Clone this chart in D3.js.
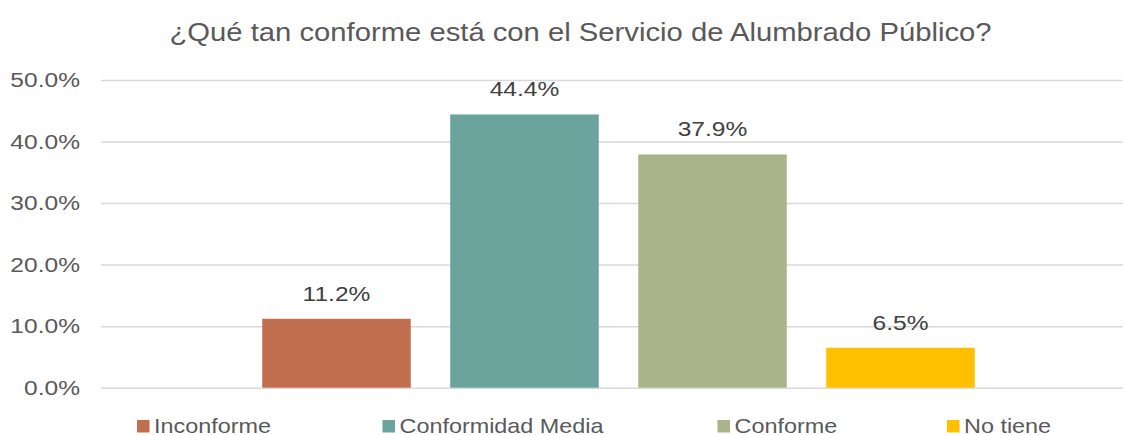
<!DOCTYPE html>
<html>
<head>
<meta charset="utf-8">
<script src="https://cdn.jsdelivr.net/npm/d3@7"></script>
<style>
  html, body { margin: 0; padding: 0; background: #fff; }
  svg { display: block; font-family: "Liberation Sans", Arial, sans-serif; }
</style>
</head>
<body>
<svg id="chart" width="1123" height="435"></svg>
<script>
// Survey answers and their shares (percent)
const categories = ["Inconforme", "Conformidad Media", "Conforme", "No tiene"];
const values = [11.2, 44.4, 37.9, 6.5];
const colors = ["#C26F50", "#6BA39D", "#A9B48A", "#FFC000"];
const yTicks = [0, 10, 20, 30, 40, 50];
const title = "¿Qué tan conforme está con el Servicio de Alumbrado Público?";

// Text is drawn slightly widened horizontally
const SX = 1.17;

const svg = d3.select("#chart");
const plot = { left: 101, right: 1136, top: 80, bottom: 387.7 };

const x = d3.scaleBand()
  .domain(categories)
  .range([plot.left, plot.right])
  .paddingInner(0.21)
  .paddingOuter(0.8575);

const y = d3.scaleLinear()
  .domain([0, 50])
  .range([plot.bottom, plot.top]);

// Title
svg.append("text")
  .attr("transform", `translate(580.5,41) scale(${SX},1)`)
  .attr("text-anchor", "middle")
  .attr("fill", "#595959")
  .attr("font-size", 25)
  .text(title);

// Gridlines and y tick labels via a left axis
const yAxis = d3.axisLeft(y)
  .tickValues(yTicks)
  .tickSize(-(plot.right - plot.left))
  .tickFormat(d => d.toFixed(1) + "%");

const gy = svg.append("g")
  .attr("transform", `translate(${plot.left},0)`)
  .call(yAxis);
gy.select(".domain").remove();
gy.selectAll(".tick line")
  .attr("stroke", "#D9D9D9")
  .attr("stroke-width", 1.5);
gy.selectAll(".tick text")
  .attr("x", 0)
  .attr("transform", `translate(-21,0) scale(${SX},1)`)
  .attr("fill", "#595959")
  .attr("font-size", 21)
  .attr("font-family", "'Liberation Sans', Arial, sans-serif");

// Bars
svg.append("g").selectAll("rect")
  .data(categories)
  .join("rect")
  .attr("x", d => x(d))
  .attr("width", x.bandwidth())
  .attr("y", (d, i) => y(values[i]))
  .attr("height", (d, i) => y(0) - y(values[i]))
  .attr("fill", (d, i) => colors[i]);

// Value labels
svg.append("g").selectAll("text")
  .data(categories)
  .join("text")
  .attr("transform", (d, i) =>
    `translate(${x(d) + x.bandwidth() / 2},${y(values[i]) - 18}) scale(${SX},1)`)
  .attr("text-anchor", "middle")
  .attr("fill", "#404040")
  .attr("font-size", 21)
  .text((d, i) => values[i].toFixed(1) + "%");

// Legend
const legendX = [137, 382.5, 717.5, 947];
const lg = svg.append("g").selectAll("g")
  .data(categories)
  .join("g")
  .attr("transform", (d, i) => `translate(${legendX[i]},420)`);
lg.append("rect")
  .attr("width", 12.5)
  .attr("height", 12.5)
  .attr("fill", (d, i) => colors[i]);
lg.append("text")
  .attr("transform", `translate(17,12.5) scale(${SX},1)`)
  .attr("fill", "#595959")
  .attr("font-size", 20)
  .text(d => d);
</script>
</body>
</html>
